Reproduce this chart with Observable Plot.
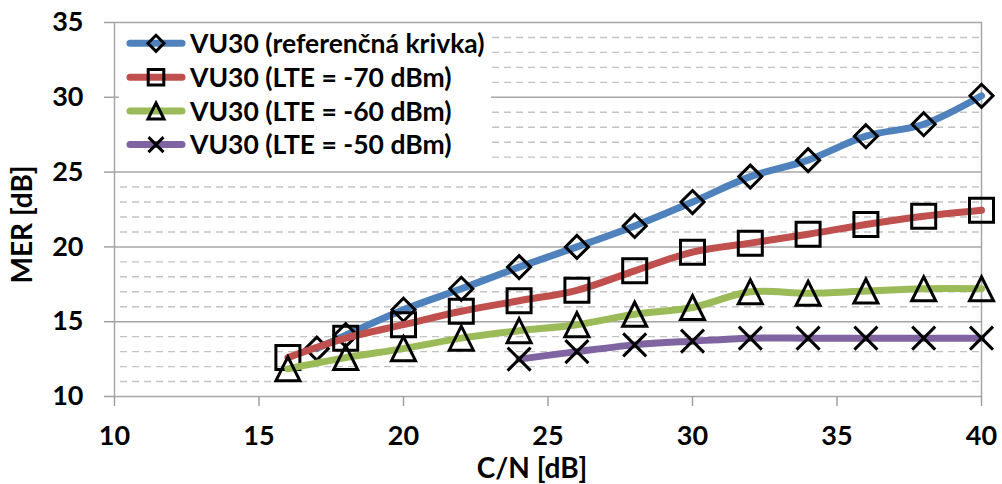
<!DOCTYPE html>
<html><head><meta charset="utf-8">
<script src="https://cdn.jsdelivr.net/npm/d3@7"></script>
<script src="https://cdn.jsdelivr.net/npm/@observablehq/plot@0.6"></script>
<style>
html,body{margin:0;padding:0;background:#fff}
#chart{width:1002px;height:484px;overflow:hidden}
</style>
</head><body><div id="chart"></div>
<script>
// ---- data ----
const seriesNames = ["VU30 (referenčná krivka)", "VU30 (LTE = -70 dBm)", "VU30 (LTE = -60 dBm)", "VU30 (LTE = -50 dBm)"];
const cnRef  = [17, 18, 20, 22, 24, 26, 28, 30, 32, 34, 36, 38, 40];
const merRef = [13.2, 14.1, 15.8, 17.2, 18.65, 20.0, 21.4, 23.0, 24.7, 25.8, 27.4, 28.2, 30.1];
const cn70   = [16, 18, 20, 22, 24, 26, 28, 30, 32, 34, 36, 38, 40];
const mer70  = [12.6, 13.9, 14.8, 15.7, 16.4, 17.1, 18.4, 19.65, 20.25, 20.85, 21.5, 22.05, 22.45];
const cn60   = [16, 18, 20, 22, 24, 26, 28, 30, 32, 34, 36, 38, 40];
const mer60  = [11.85, 12.6, 13.2, 13.9, 14.4, 14.8, 15.5, 15.95, 17.0, 16.9, 17.05, 17.2, 17.2];
const cn50   = [24, 26, 28, 30, 32, 34, 36, 38, 40];
const mer50  = [12.5, 13.0, 13.45, 13.7, 13.9, 13.9, 13.9, 13.9, 13.9];
const xTicks = [10, 15, 20, 25, 30, 35, 40];
const yTicks = [10, 15, 20, 25, 30, 35];
const yMajorGrid = [15, 20, 25, 30];
const yMinorGrid = [11, 12, 13, 14, 16, 17, 18, 19, 21, 22, 23, 24, 26, 27, 28, 29, 31, 32, 33, 34];
const xLabel = "C/N [dB]";
const yLabel = "MER [dB]";
const colors = ["#4F81BD", "#C0504D", "#9BBB59", "#8064A2"];

// ---- symbols (half-extent = r) ----
const hr = s => Math.sqrt(s / Math.PI);
const symDiamond = {draw(c, s){const h=hr(s); c.moveTo(0,-h); c.lineTo(h,0); c.lineTo(0,h); c.lineTo(-h,0); c.closePath();}};
const symSquare  = {draw(c, s){const h=hr(s); c.moveTo(-h,-h); c.lineTo(h,-h); c.lineTo(h,h); c.lineTo(-h,h); c.closePath();}};
const symTri     = {draw(c, s){const h=hr(s); c.moveTo(0,-h); c.lineTo(h,h); c.lineTo(-h,h); c.closePath();}};
const symTimes   = {draw(c, s){const h=hr(s); c.moveTo(-h,-h); c.lineTo(h,h); c.moveTo(h,-h); c.lineTo(-h,h);}};
const symbols = [symDiamond, symSquare, symTri, symTimes];
const symR = [11.5, 12, 12, 11.5];
const legendR = [8, 7.8, 8, 7.5];

const mk = (xs, ys) => xs.map((x, i) => ({x, y: ys[i]}));
const series = [mk(cnRef, merRef), mk(cn70, mer70), mk(cn60, mer60), mk(cn50, mer50)];

const W = 1002, H = 484;
const mL = 114, mR = 21, mT = 22, mB = 88;
const FONT = "Lato, 'Open Sans', sans-serif";

const marks = [
  Plot.ruleY(yMinorGrid, {stroke: "#c3c3c3", strokeWidth: 1.4, strokeDasharray: "7,5", insetLeft: 6}),
  Plot.ruleY(yMajorGrid, {stroke: "#a6a6a6", strokeWidth: 1.5}),
  Plot.frame({stroke: "#a6a6a6", strokeWidth: 1.5}),
  Plot.axisX(xTicks, {tickSize: 10, tickPadding: 19, stroke: "#a0a0a0", strokeWidth: 1.5, fill: "#000", fontSize: 27, fontWeight: "bold", label: null}),
  Plot.axisY(yTicks, {tickSize: 10, tickPadding: 21, stroke: "#a0a0a0", strokeWidth: 1.5, fill: "#000", fontSize: 27, fontWeight: "bold", label: null})
];
series.forEach((d, i) => {
  marks.push(Plot.line(d, {x: "x", y: "y", stroke: colors[i], strokeWidth: 7, curve: "catmull-rom", strokeLinecap: "round"}));
  marks.push(Plot.dot(d, {x: "x", y: "y", symbol: symbols[i], r: symR[i], stroke: "#000", strokeWidth: 3, fill: "none"}));
});
marks.push(Plot.text([xLabel], {frameAnchor: "bottom", textAnchor: "middle", lineAnchor: "middle", dx: -16, dy: 73, fontSize: 28, fontWeight: "bold", fill: "#000"}));
marks.push(Plot.text([yLabel], {frameAnchor: "left", textAnchor: "middle", lineAnchor: "middle", rotate: -90, dx: -91, dy: 15, fontSize: 28, fontWeight: "bold", fill: "#000"}));

const chart = Plot.plot({
  width: W, height: H,
  marginLeft: mL, marginRight: mR, marginTop: mT, marginBottom: mB,
  x: {domain: [10, 40]},
  y: {domain: [10, 35]},
  style: {fontFamily: FONT, background: "#fff", color: "#000", overflow: "visible"},
  marks
});

// ---- legend (inside the plot, top-left) ----
const svg = d3.select(chart);
const lg = svg.append("g").attr("text-anchor", "start");
lg.append("rect").attr("x", 119).attr("y", 25).attr("width", 372).attr("height", 136).attr("fill", "#fff");
const rowY = [43.3, 77.2, 111, 144.6];
seriesNames.forEach((name, i) => {
  const g = lg.append("g").attr("transform", `translate(0,${rowY[i]})`);
  g.append("line").attr("x1", 130).attr("x2", 182).attr("y1", 0).attr("y2", 0)
    .attr("stroke", colors[i]).attr("stroke-width", 7).attr("stroke-linecap", "round");
  g.append("path").attr("transform", "translate(156,0)")
    .attr("d", d3.symbol(symbols[i], legendR[i] * legendR[i] * Math.PI)())
    .attr("fill", "none").attr("stroke", "#000").attr("stroke-width", 3);
  g.append("text").attr("x", 190).attr("y", 0).attr("dy", "0.36em").attr("text-anchor", "start")
    .attr("font-family", FONT).attr("font-size", 26.5).attr("font-weight", "bold").attr("fill", "#000")
    .text(name);
});

document.getElementById("chart").appendChild(chart);
</script>
</body></html>
